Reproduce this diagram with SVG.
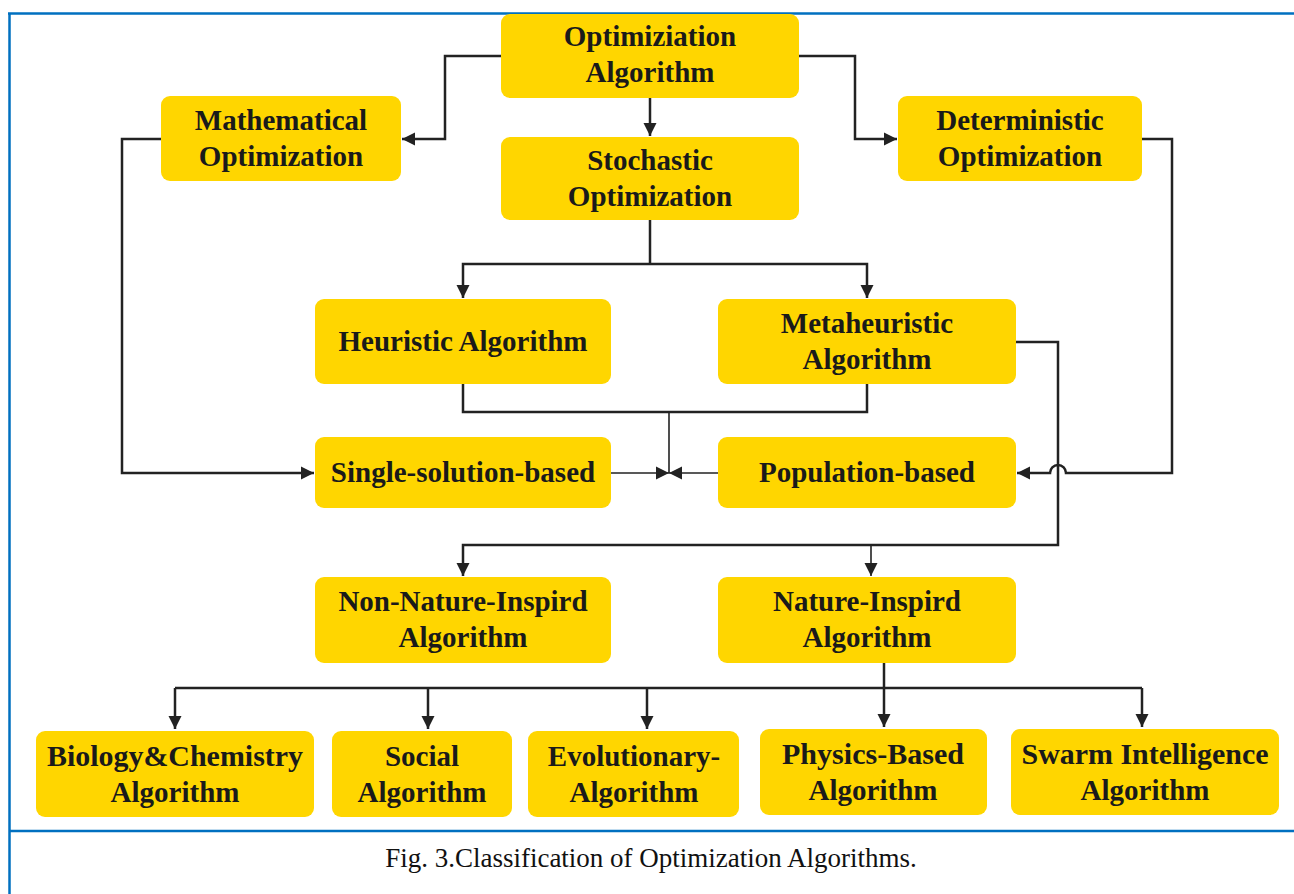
<svg xmlns="http://www.w3.org/2000/svg" width="1294" height="894" viewBox="0 0 1294 894">
  <style>
    .node rect { fill: #FFD600; }
    .node text { font-family: "Liberation Serif", "Times New Roman", serif; font-weight: bold; font-size: 29px; fill: #1a1a1a; text-anchor: middle; }
    .wire { fill: none; stroke: #222; stroke-width: 2.5; }
    .thin { fill: none; stroke: #222; stroke-width: 1.6; }
    .frame { stroke: #0070C0; stroke-width: 2.5; fill: none; }
    .caption { font-family: "Liberation Serif", "Times New Roman", serif; font-size: 27px; fill: #111; text-anchor: middle; }
  </style>
  <defs>
    <marker id="arrow" markerUnits="userSpaceOnUse" markerWidth="14" markerHeight="14" refX="13" refY="7" orient="auto">
      <path d="M0,0.5 L13,7 L0,13.5 z" fill="#222"/>
    </marker>
  </defs>

  <rect width="1294" height="894" fill="#fff"/>

  <!-- frame -->
  <path class="frame" d="M8,13.5 H1294 M9.5,13 V894 M9,831 H1294"/>

  <!-- connectors -->
  <g id="connectors">
    <path class="wire" d="M501,56 H445 V139 H402" marker-end="url(#arrow)"/>
    <path class="wire" d="M799,56 H855 V139 H897" marker-end="url(#arrow)"/>
    <path class="wire" d="M650,98 V136" marker-end="url(#arrow)"/>
    <path class="wire" d="M650,220 V264"/>
    <path class="wire" d="M650,264 H463 V298" marker-end="url(#arrow)"/>
    <path class="wire" d="M650,264 H867 V298" marker-end="url(#arrow)"/>
    <path class="wire" d="M463,384 V412 H867 V384"/>
    <path class="thin" d="M669,412 V473"/>
    <path class="thin" d="M611,473 H669" marker-end="url(#arrow)"/>
    <path class="thin" d="M718,473 H669" marker-end="url(#arrow)"/>
    <path class="wire" d="M161,139 H122 V473 H314" marker-end="url(#arrow)"/>
    <path class="wire" d="M1142,139 H1172 V473 H1066 A8,8 0 0 0 1050,473 H1017" marker-end="url(#arrow)"/>
    <path class="wire" d="M1016,342 H1058 V545 H463 V576" marker-end="url(#arrow)"/>
    <path class="thin" d="M871,545 V576" marker-end="url(#arrow)"/>
    <path class="wire" d="M884,663 V727" marker-end="url(#arrow)"/>
    <path class="wire" d="M175,688 H1142"/>
    <path class="wire" d="M175,688 V729" marker-end="url(#arrow)"/>
    <path class="wire" d="M428,688 V729" marker-end="url(#arrow)"/>
    <path class="wire" d="M647,688 V729" marker-end="url(#arrow)"/>
    <path class="wire" d="M1142,688 V727" marker-end="url(#arrow)"/>
  </g>

  <!-- nodes -->
  <g id="optimization-algorithm" class="node">
    <rect x="501" y="14" width="298" height="84" rx="9"/>
    <text x="650" y="46">Optimiziation</text>
    <text x="650" y="82">Algorithm</text>
  </g>
  <g id="mathematical-optimization" class="node">
    <rect x="161" y="96" width="240" height="85" rx="9"/>
    <text x="281" y="130">Mathematical</text>
    <text x="281" y="166">Optimization</text>
  </g>
  <g id="stochastic-optimization" class="node">
    <rect x="501" y="137" width="298" height="83" rx="9"/>
    <text x="650" y="170">Stochastic</text>
    <text x="650" y="206">Optimization</text>
  </g>
  <g id="deterministic-optimization" class="node">
    <rect x="898" y="96" width="244" height="85" rx="9"/>
    <text x="1020" y="130">Deterministic</text>
    <text x="1020" y="166">Optimization</text>
  </g>
  <g id="heuristic-algorithm" class="node">
    <rect x="315" y="299" width="296" height="85" rx="9"/>
    <text x="463" y="351">Heuristic Algorithm</text>
  </g>
  <g id="metaheuristic-algorithm" class="node">
    <rect x="718" y="299" width="298" height="85" rx="9"/>
    <text x="867" y="333">Metaheuristic</text>
    <text x="867" y="369">Algorithm</text>
  </g>
  <g id="single-solution-based" class="node">
    <rect x="315" y="437" width="296" height="71" rx="9"/>
    <text x="463" y="482">Single-solution-based</text>
  </g>
  <g id="population-based" class="node">
    <rect x="718" y="437" width="298" height="71" rx="9"/>
    <text x="867" y="482">Population-based</text>
  </g>
  <g id="non-nature-inspired" class="node">
    <rect x="315" y="577" width="296" height="86" rx="9"/>
    <text x="463" y="611">Non-Nature-Inspird</text>
    <text x="463" y="647">Algorithm</text>
  </g>
  <g id="nature-inspired" class="node">
    <rect x="718" y="577" width="298" height="86" rx="9"/>
    <text x="867" y="611">Nature-Inspird</text>
    <text x="867" y="647">Algorithm</text>
  </g>
  <g id="biology-chemistry" class="node">
    <rect x="36" y="731" width="278" height="86" rx="9"/>
    <text x="175" y="766" textLength="256" lengthAdjust="spacingAndGlyphs">Biology&amp;Chemistry</text>
    <text x="175" y="802">Algorithm</text>
  </g>
  <g id="social" class="node">
    <rect x="332" y="731" width="180" height="86" rx="9"/>
    <text x="422" y="766">Social</text>
    <text x="422" y="802">Algorithm</text>
  </g>
  <g id="evolutionary" class="node">
    <rect x="528" y="731" width="211" height="86" rx="9"/>
    <text x="634" y="766">Evolutionary-</text>
    <text x="634" y="802">Algorithm</text>
  </g>
  <g id="physics-based" class="node">
    <rect x="760" y="729" width="227" height="86" rx="9"/>
    <text x="873" y="764" textLength="182" lengthAdjust="spacingAndGlyphs">Physics-Based</text>
    <text x="873" y="800">Algorithm</text>
  </g>
  <g id="swarm-intelligence" class="node">
    <rect x="1011" y="729" width="268" height="86" rx="9"/>
    <text x="1145" y="764" textLength="247" lengthAdjust="spacingAndGlyphs">Swarm Intelligence</text>
    <text x="1145" y="800">Algorithm</text>
  </g>

  <text class="caption" x="651" y="867">Fig. 3.Classification of Optimization Algorithms.</text>
</svg>
